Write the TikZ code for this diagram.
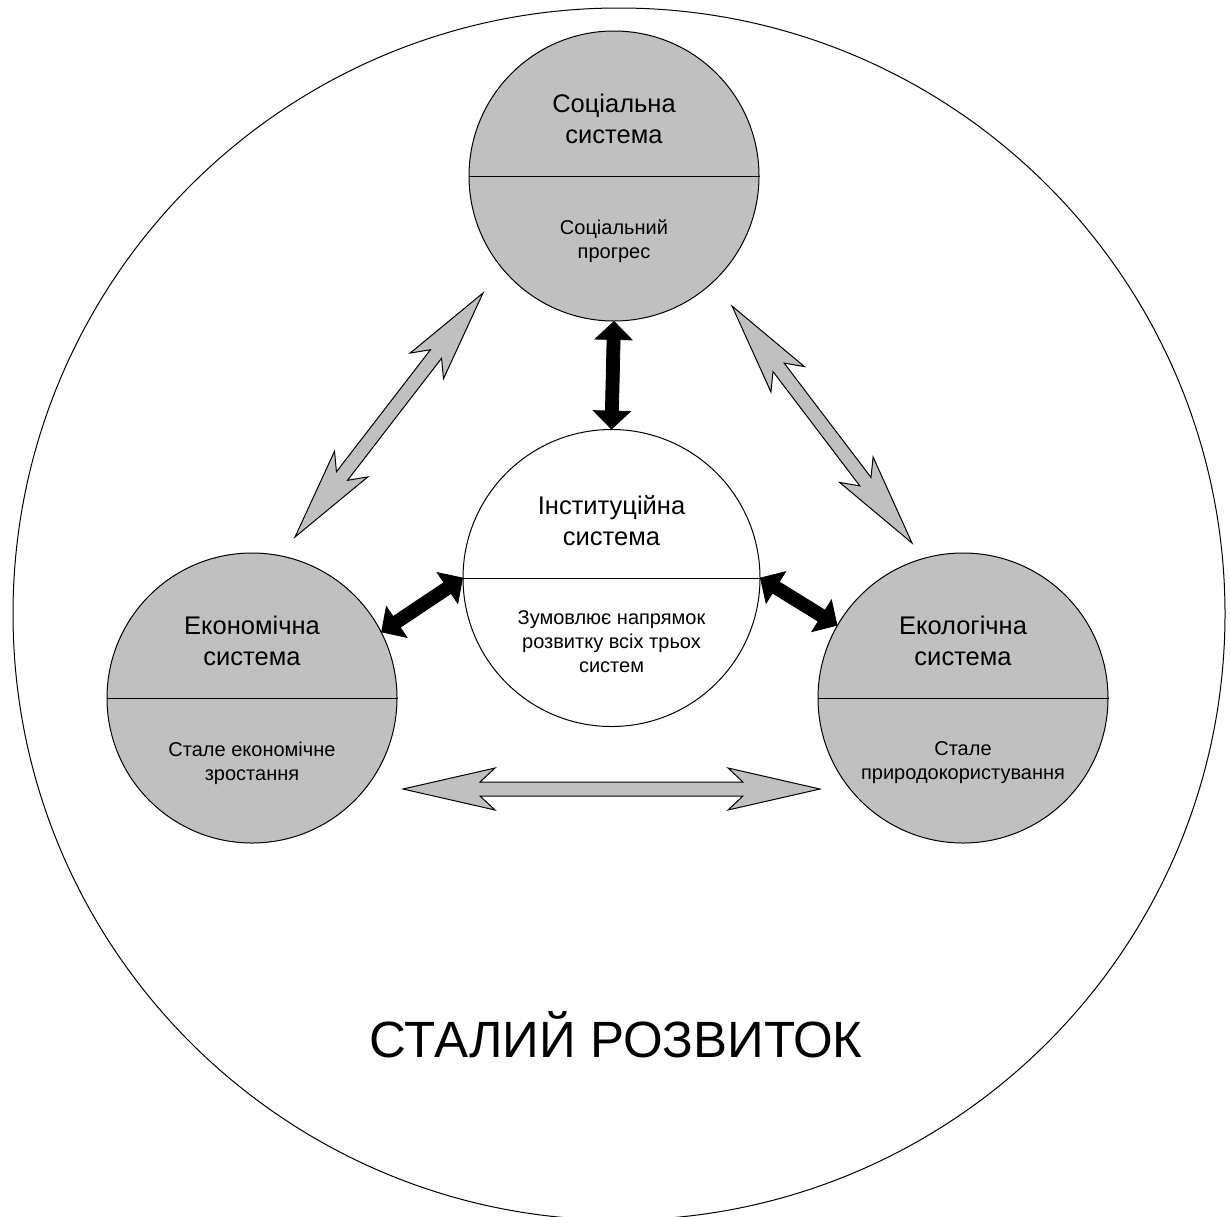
\documentclass[tikz,border=0pt]{standalone}
\usepackage{fontspec}
\setmainfont{Liberation Sans}
\usetikzlibrary{calc}
\definecolor{grayfill}{RGB}{192,192,192}
% #1 id, #2 end A, #3 end B, #4 barb distance, #5 join distance, #6 head half width, #7 shaft half width, #8 style
\newcommand\dblarr[8]{%
  \coordinate (#1ha) at ($(#2)!#4!(#3)$);
  \coordinate (#1ja) at ($(#2)!#5!(#3)$);
  \coordinate (#1hb) at ($(#3)!#4!(#2)$);
  \coordinate (#1jb) at ($(#3)!#5!(#2)$);
  \draw[#8] (#2) -- ($(#1ha)!#6!90:(#3)$) -- ($(#1ja)!#7!90:(#3)$)
    -- ($(#1jb)!#7!-90:(#2)$) -- ($(#1hb)!#6!-90:(#2)$) -- (#3)
    -- ($(#1hb)!#6!90:(#2)$) -- ($(#1jb)!#7!90:(#2)$)
    -- ($(#1ja)!#7!-90:(#3)$) -- ($(#1ha)!#6!-90:(#3)$) -- cycle;
}
\begin{document}
\begin{tikzpicture}[x=1pt,y=-1pt,
  sys/.style={circle,draw=black,line width=1pt,fill=grayfill,minimum size=290pt,inner sep=0pt},
  inst/.style={circle,draw=black,line width=1pt,fill=white,minimum size=297pt,inner sep=0pt},
  outerc/.style={circle,draw=black,line width=1pt,minimum size=1212pt,inner sep=0pt},
  divider/.style={line width=1pt},
  headtxt/.style={align=center,inner sep=0pt,font=\fontsize{25.5}{31}\selectfont},
  subtxt/.style={align=center,inner sep=0pt,font=\fontsize{20}{24}\selectfont},
  grayarrow/.style={draw=black,line width=1pt,fill=grayfill,line join=miter},
  blackarrow/.style={draw=black,line width=0.8pt,fill=black,line join=miter}]
\useasboundingbox (0,0) rectangle (1230,1216);
\clip (0,0) rectangle (1230,1216);
\fill[white] (0,0) rectangle (1230,1216);
\node[outerc] (all) at (619,614) {};

\node[sys] (soc) at (614,176) {};
\node[inst] (ins) at (611.5,578) {};
\node[sys] (econ) at (252,698) {};
\node[sys] (ecol) at (963,698) {};

\draw[divider] (soc.west) -- (soc.east);
\draw[divider] (ins.west) -- (ins.east);
\draw[divider] (econ.west) -- (econ.east);
\draw[divider] (ecol.west) -- (ecol.east);

\node[headtxt] (soch) at ([yshift=57pt]soc.center) {Соціальна\\система};
\node[subtxt] (socs) at ([yshift=-65pt]soc.center) {Соціальний\\прогрес};
\node[headtxt] (insh) at ([yshift=57pt]ins.center) {Інституційна\\система};
\node[subtxt] (inss) at ([yshift=-64pt]ins.center) {Зумовлює напрямок\\розвитку всіх трьох\\систем};
\node[headtxt] (econh) at ([yshift=57pt]econ.center) {Економічна\\система};
\node[subtxt] (econs) at ([yshift=-65pt]econ.center) {Стале економічне\\зростання};
\node[headtxt] (ecolh) at ([yshift=57pt]ecol.center) {Екологічна\\система};
\node[subtxt] (ecols) at ([yshift=-65pt]ecol.center) {Стале\\природокористування};

\node[font=\fontsize{51}{60}\selectfont,anchor=base,inner sep=0pt] (title) at (616,1057) {СТАЛИЙ РОЗВИТОК};

% black arrows
\dblarr{b1}{soc.south}{ins.north}{18pt}{18pt}{18.5pt}{6.5pt}{blackarrow}
\dblarr{b2}{ins.west}{econ.27.5}{18pt}{18pt}{18.5pt}{6.5pt}{blackarrow}
\dblarr{b3}{ins.east}{ecol.150.6}{18pt}{18pt}{18.5pt}{6.5pt}{blackarrow}

% gray arrows
\coordinate (g1a) at (483,293);
\coordinate (g1b) at (295,537);
\coordinate (g2a) at (732,306);
\coordinate (g2b) at (912,543);
\coordinate (g3a) at (403,789);
\coordinate (g3b) at (820,789);
\dblarr{gl}{g1a}{g1b}{92pt}{77pt}{21pt}{7pt}{grayarrow}
\dblarr{gr}{g2a}{g2b}{92pt}{77pt}{21pt}{7pt}{grayarrow}
\dblarr{gh}{g3a}{g3b}{92pt}{77pt}{21pt}{7pt}{grayarrow}
\end{tikzpicture}
\end{document}
